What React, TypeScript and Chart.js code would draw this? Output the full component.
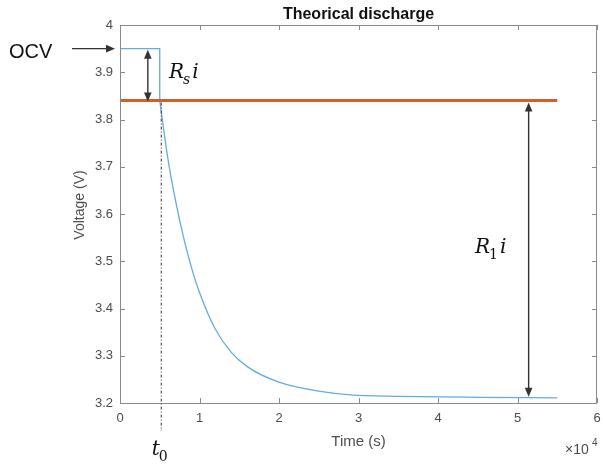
import React, { useEffect, useRef } from "react";
import { Chart, registerables } from "chart.js";

Chart.register(...registerables);

// ---- data (time in seconds, voltage in volts) ----
const stepTime = [0, 5000, 5000];
const stepVoltage = [3.95, 3.95, 3.84];
const decayTime = [5000, 6000, 7000, 8000, 9000, 10000, 12000, 14000, 16000, 20000, 25000, 29000, 35000, 45000, 55000];
const decayVoltage = [3.84, 3.72, 3.627, 3.55, 3.486, 3.434, 3.356, 3.307, 3.277, 3.244, 3.225, 3.217, 3.214, 3.212, 3.211];
const ohmicTime = [0, 55000];
const ohmicVoltage = [3.84, 3.84];

const xTickValues = [0, 10000, 20000, 30000, 40000, 50000, 60000];
const yTickValues = [3.2, 3.3, 3.4, 3.5, 3.6, 3.7, 3.8, 3.9, 4];

const t0 = 5000;
const ocvVoltage = 3.95;
const r0Voltage = 3.84;
const finalVoltage = 3.211;
const rsArrowTime = 3500;
const r1ArrowTime = 51400;
const rsLabelAt = [6150, 3.887];
const r1LabelAt = [44650, 3.517];

const TITLE = "Theorical discharge";
const X_TITLE = "Time (s)";
const Y_TITLE = "Voltage (V)";

const SANS = "'Liberation Sans', Arial, Helvetica, sans-serif";
const SERIF = "'DejaVu Serif', serif";
const FRAME = "#8a8a8a";
const TEXT = "#4d4d4d";
const ARROW = "#333333";

function toPoints(xs: number[], ys: number[]) {
  return xs.map((x, i) => ({ x, y: ys[i] }));
}

function arrowHead(ctx: CanvasRenderingContext2D, x1: number, y1: number, x2: number, y2: number) {
  const ang = Math.atan2(y2 - y1, x2 - x1);
  const len = 9;
  const half = 3.8;
  ctx.beginPath();
  ctx.moveTo(x2, y2);
  ctx.lineTo(x2 - len * Math.cos(ang) + half * Math.sin(ang), y2 - len * Math.sin(ang) - half * Math.cos(ang));
  ctx.lineTo(x2 - len * Math.cos(ang) - half * Math.sin(ang), y2 - len * Math.sin(ang) + half * Math.cos(ang));
  ctx.closePath();
  ctx.fill();
}

function arrow(ctx: CanvasRenderingContext2D, x1: number, y1: number, x2: number, y2: number, both: boolean) {
  ctx.save();
  ctx.strokeStyle = ARROW;
  ctx.fillStyle = ARROW;
  ctx.lineWidth = 1.4;
  const ang = Math.atan2(y2 - y1, x2 - x1);
  const sx = both ? x1 + 6 * Math.cos(ang) : x1;
  const sy = both ? y1 + 6 * Math.sin(ang) : y1;
  ctx.beginPath();
  ctx.moveTo(sx, sy);
  ctx.lineTo(x2 - 6 * Math.cos(ang), y2 - 6 * Math.sin(ang));
  ctx.stroke();
  arrowHead(ctx, x1, y1, x2, y2);
  if (both) arrowHead(ctx, x2, y2, x1, y1);
  ctx.restore();
}

function subLabel(ctx: CanvasRenderingContext2D, x: number, y: number, main: string, sub: string, tail: string) {
  ctx.save();
  ctx.fillStyle = "#111111";
  ctx.textBaseline = "alphabetic";
  ctx.textAlign = "left";
  ctx.font = `italic 20px ${SERIF}`;
  ctx.fillText(main, x, y);
  let cx = x + ctx.measureText(main).width;
  ctx.font = `${/\d/.test(sub) ? "" : "italic "}14px ${SERIF}`;
  ctx.fillText(sub, cx - 1, y + 6);
  cx += ctx.measureText(sub).width + 1;
  if (tail) {
    ctx.font = `italic 20px ${SERIF}`;
    ctx.fillText(tail, cx, y);
  }
  ctx.restore();
}

const decorPlugin = {
  id: "decor",
  afterDraw(chart: any) {
    const { ctx, chartArea } = chart;
    const xs = chart.scales.x;
    const ys = chart.scales.y;
    const { left, right, top, bottom } = chartArea;

    ctx.save();
    // frame
    ctx.strokeStyle = FRAME;
    ctx.lineWidth = 1;
    ctx.strokeRect(left + 0.5, top + 0.5, right - left - 1, bottom - top);
    // inward ticks
    ctx.beginPath();
    xTickValues.forEach((v) => {
      const px = Math.round(xs.getPixelForValue(v)) + 0.5;
      ctx.moveTo(px, bottom);
      ctx.lineTo(px, bottom - 5);
      ctx.moveTo(px, top);
      ctx.lineTo(px, top + 5);
    });
    yTickValues.forEach((v) => {
      const py = Math.round(ys.getPixelForValue(v)) + 0.5;
      ctx.moveTo(left, py);
      ctx.lineTo(left + 5, py);
      ctx.moveTo(right, py);
      ctx.lineTo(right - 5, py);
    });
    ctx.stroke();

    // title
    ctx.fillStyle = "#111111";
    ctx.font = `bold 16px ${SANS}`;
    ctx.textAlign = "center";
    ctx.textBaseline = "alphabetic";
    ctx.fillText(TITLE, (left + right) / 2, 19);

    // y title
    ctx.save();
    ctx.translate(84, 205);
    ctx.rotate(-Math.PI / 2);
    ctx.fillStyle = TEXT;
    ctx.font = `14px ${SANS}`;
    ctx.textAlign = "center";
    ctx.textBaseline = "alphabetic";
    ctx.fillText(Y_TITLE, 0, 0);
    ctx.restore();

    // x10^4 multiplier
    ctx.fillStyle = TEXT;
    ctx.textAlign = "left";
    ctx.font = `14px ${SANS}`;
    ctx.fillText("\u00d710", 565, 454);
    ctx.font = `10px ${SANS}`;
    ctx.fillText("4", 592, 446);

    // dash-dot line at t0
    const tx = xs.getPixelForValue(t0) + 1.5;
    ctx.strokeStyle = "#333333";
    ctx.lineWidth = 1;
    ctx.setLineDash([3, 2, 1, 2]);
    ctx.beginPath();
    ctx.moveTo(tx, ys.getPixelForValue(r0Voltage) + 2);
    ctx.lineTo(tx, bottom + 28);
    ctx.stroke();
    ctx.setLineDash([]);

    // OCV label + arrow
    ctx.fillStyle = "#111111";
    ctx.font = `20px ${SANS}`;
    ctx.textAlign = "left";
    ctx.fillText("OCV", 9, 58);
    const yOcv = ys.getPixelForValue(ocvVoltage);
    arrow(ctx, 72, yOcv, left - 5, yOcv, false);

    // Rs arrow
    const xr = xs.getPixelForValue(rsArrowTime);
    arrow(ctx, xr, yOcv + 1, xr, ys.getPixelForValue(r0Voltage) + 1, true);
    // R1 arrow
    const x1 = xs.getPixelForValue(r1ArrowTime);
    arrow(ctx, x1, ys.getPixelForValue(r0Voltage) + 2, x1, ys.getPixelForValue(finalVoltage) - 1, true);

    // math labels
    subLabel(ctx, xs.getPixelForValue(rsLabelAt[0]), ys.getPixelForValue(rsLabelAt[1]), "R", "s", "i");
    subLabel(ctx, xs.getPixelForValue(r1LabelAt[0]), ys.getPixelForValue(r1LabelAt[1]), "R", "1", "i");
    subLabel(ctx, xs.getPixelForValue(t0) - 8, bottom + 52, "t", "0", "");
    ctx.restore();
  },
};

export default function App() {
  const ref = useRef<HTMLCanvasElement | null>(null);

  useEffect(() => {
    document.body.style.margin = "0";
    const canvas = ref.current;
    if (!canvas) return;
    const chart = new Chart(canvas, {
      type: "line",
      data: {
        datasets: [
          {
            label: "Ohmic drop level",
            data: toPoints(ohmicTime, ohmicVoltage),
            borderColor: "#DD5A20",
            borderWidth: 3,
            pointRadius: 0,
            tension: 0,
          },
          {
            label: "Step",
            data: toPoints(stepTime, stepVoltage),
            borderColor: "#62ACE2",
            borderWidth: 1.3,
            pointRadius: 0,
            tension: 0,
          },
          {
            label: "Discharge",
            data: toPoints(decayTime, decayVoltage),
            borderColor: "#62ACE2",
            borderWidth: 1.3,
            pointRadius: 0,
            cubicInterpolationMode: "monotone",
          },
        ],
      },
      options: {
        animation: false,
        responsive: false,
        parsing: false as any,
        layout: { padding: { left: 0, top: 25, right: 6, bottom: 0 } },
        plugins: { legend: { display: false }, tooltip: { enabled: false }, title: { display: false } },
        scales: {
          x: {
            type: "linear",
            min: 0,
            max: 60000,
            grid: { display: false, drawTicks: false },
            border: { display: false },
            afterFit: (s: any) => {
              s.height = 61;
              s.paddingLeft = 0;
              s.paddingRight = 0;
            },
            afterBuildTicks: (s: any) => {
              s.ticks = xTickValues.map((v) => ({ value: v }));
            },
            ticks: {
              padding: 8,
              color: TEXT,
              font: { family: SANS, size: 13 },
              maxRotation: 0,
              callback: (v: any) => String(Number(v) / 10000),
            },
            title: {
              display: true,
              text: X_TITLE,
              color: TEXT,
              font: { family: SANS, size: 15 },
              padding: { top: 0, bottom: 13.5 },
            },
          },
          y: {
            type: "linear",
            min: 3.2,
            max: 4,
            grid: { display: false, drawTicks: false },
            border: { display: false },
            afterFit: (s: any) => {
              s.width = 120;
              s.paddingTop = 0;
              s.paddingBottom = 0;
            },
            afterBuildTicks: (s: any) => {
              s.ticks = yTickValues.map((v) => ({ value: v }));
            },
            ticks: {
              padding: 7,
              color: TEXT,
              font: { family: SANS, size: 13 },
              callback: (v: any) => String(Math.round(Number(v) * 10) / 10),
            },
          },
        },
      },
      plugins: [decorPlugin],
    } as any);
    return () => chart.destroy();
  }, []);

  return (
    <div style={{ position: "absolute", left: 0, top: 0, width: 603, height: 464, background: "#fff" }}>
      <canvas ref={ref} width={603} height={464} style={{ display: "block" }} />
    </div>
  );
}
